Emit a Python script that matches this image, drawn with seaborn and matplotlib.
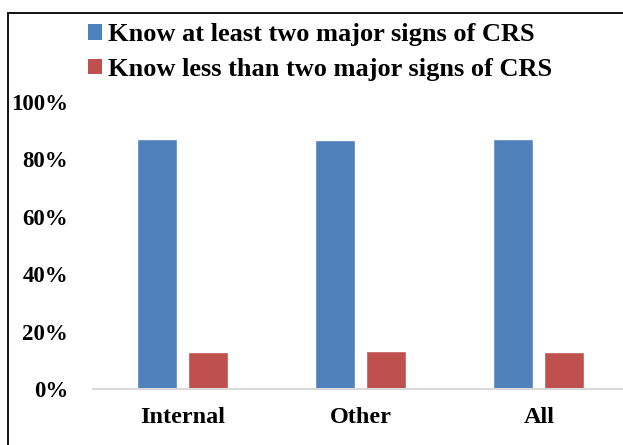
import pandas as pd
import matplotlib.pyplot as plt
import seaborn as sns
from matplotlib.patches import Rectangle, Patch
from matplotlib.ticker import PercentFormatter

groups = ['Internal', 'Other', 'All']
series = ['Know at least two major signs of CRS', 'Know less than two major signs of CRS']
know_two = [0.871, 0.868, 0.870]
know_less = [0.129, 0.132, 0.130]
colors = ['#4F81BD', '#C0504D']

df = pd.DataFrame({
    'group': groups * 2,
    'series': [series[0]] * 3 + [series[1]] * 3,
    'share': know_two + know_less,
})

sns.set_style('white')
plt.rcParams['font.family'] = ['Liberation Serif', 'DejaVu Serif']
plt.rcParams['font.weight'] = 'bold'
plt.rcParams['text.color'] = 'black'
plt.rcParams['xtick.color'] = 'black'
plt.rcParams['ytick.color'] = 'black'

W, H = 623, 445
fig = plt.figure(figsize=(W / 100, H / 100), dpi=100)
ax = fig.add_axes([93 / W, (H - 389) / H, (628 - 93) / W, 287 / H])

sns.barplot(data=df, x='group', y='share', hue='series', palette=colors,
            width=0.572, gap=0.22, ax=ax, legend=False, saturation=1)

ax.set_ylim(0, 1)
ax.set_xlim(-0.5, 2.5)
ax.set_yticks([0, 0.2, 0.4, 0.6, 0.8, 1.0])
ax.yaxis.set_major_formatter(PercentFormatter(1.0, decimals=0))
ax.tick_params(axis='y', length=0, pad=18, labelsize=16.5)
ax.tick_params(axis='x', length=0, pad=13, labelsize=17.5)
for lab in ax.get_xticklabels() + ax.get_yticklabels():
    lab.set_fontweight('bold')
ax.set_xlabel('')
ax.set_ylabel('')
for s in ['left', 'right', 'top']:
    ax.spines[s].set_visible(False)
ax.spines['bottom'].set_color('#d9d9d9')
ax.spines['bottom'].set_linewidth(1.5)

handles = [Patch(facecolor=c, edgecolor='none') for c in colors]
fig.legend(handles, series, loc='upper left', bbox_to_anchor=(88 / W, 1 - 23 / H),
           frameon=False, handlelength=0.52, handleheight=0.55, handletextpad=0.25,
           labelspacing=0.45, borderaxespad=0, borderpad=0,
           prop={'family': 'Liberation Serif', 'weight': 'bold', 'size': 19})

# outer frame (cut off at right and bottom like the original)
fig.patches.append(Rectangle((7.5 / W, -0.2), 1.2, 1.2 - 12.5 / H, transform=fig.transFigure,
                             fill=False, edgecolor='black', linewidth=1.3))

fig.savefig('out.png', dpi=100)
